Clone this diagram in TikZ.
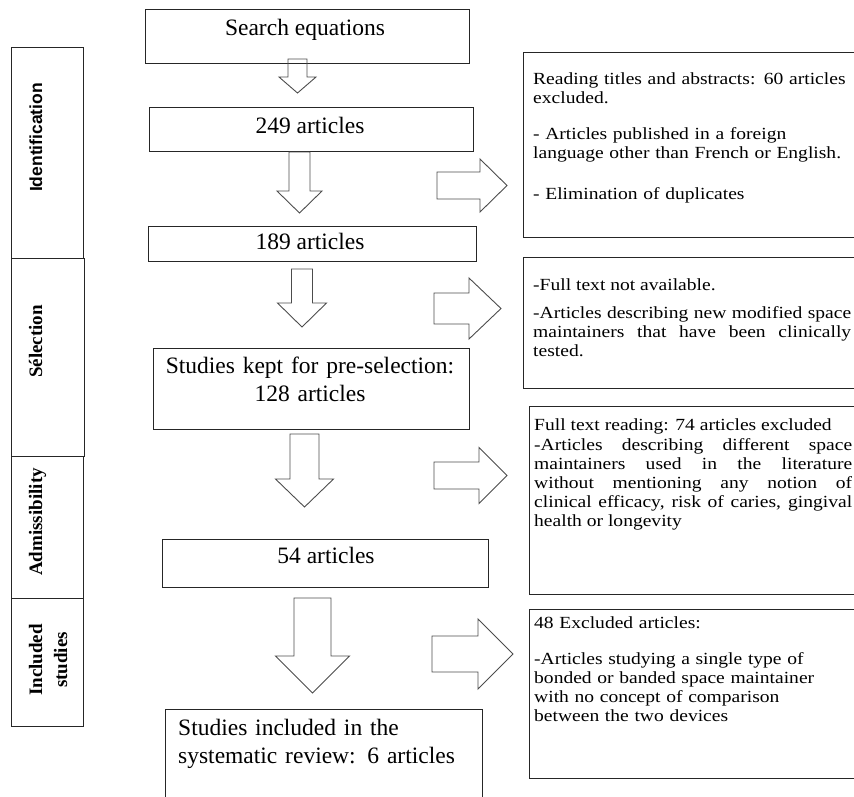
\documentclass[tikz,border=0pt]{standalone}
\usepackage{fontspec}
\setmainfont{Liberation Serif}
\newfontfamily\sidesans{Liberation Sans}
\newfontfamily\wideserif[FakeStretch=1.15]{Liberation Serif}
\usepackage{tikz}

\newcommand{\downblock}[6]{%
  \draw[blockarrow] ({#1-#2},#4) -- ({#1+#2},#4) -- ({#1+#2},#5) -- ({#1+#3},#5) -- (#1,#6) -- ({#1-#3},#5) -- ({#1-#2},#5) -- cycle;}
\newcommand{\rightblock}[6]{%
  \draw[blockarrow] (#4,{#1-#2}) -- (#5,{#1-#2}) -- (#5,{#1-#3}) -- (#6,#1) -- (#5,{#1+#3}) -- (#5,{#1+#2}) -- (#4,{#1+#2}) -- cycle;}

\begin{document}
\begin{tikzpicture}[x=1pt, y=-1pt,
        box/.style={draw=black!85, line width=1.1pt, inner sep=0pt, anchor=north west},
        blockarrow/.style={draw=black!70, line width=0.9pt, line join=miter},
        maintext/.style={font=\fontsize{23.5}{28}\selectfont, inner sep=0pt, anchor=base},
        sidetext/.style={font=\wideserif\fontsize{17}{19}\selectfont, inner sep=0pt, anchor=base west, text width=318pt},
        stagetext/.style={font=\fontsize{19}{25}\selectfont\bfseries, inner sep=0pt, rotate=90, anchor=base}
    ]
    \useasboundingbox (0,0) rectangle (854,796);

    \node[box, minimum width=72pt, minimum height=211pt] (identification) at (11,47) {};
    \node[box, minimum width=73pt, minimum height=198pt] (selection) at (11,258) {};
    \node[box, minimum width=72pt, minimum height=142pt] (admissibility) at (11,456) {};
    \node[box, minimum width=72pt, minimum height=128pt] (included) at (11,598) {};
    \node[stagetext, font=\sidesans\fontsize{17.5}{21}\selectfont\bfseries] (identification-t) at (42,137.5) {Identification};
    \node[stagetext] (selection-t) at (42,341.5) {Sélection};
    \node[stagetext] (admissibility-t) at (42,522) {Admissibility};
    \node[stagetext, text width=90pt, align=center] (included-t) at (42,660) {Included\\studies};

    \node[box, minimum width=324pt, minimum height=54pt] (search) at (145,9) {};
    \node[box, minimum width=324pt, minimum height=44pt] (n249) at (149,107) {};
    \node[box, minimum width=328pt, minimum height=35pt] (n189) at (148,226) {};
    \node[box, minimum width=316pt, minimum height=81pt] (n128) at (153,348) {};
    \node[box, minimum width=326pt, minimum height=48pt] (n54) at (162,539) {};
    \node[box, minimum width=317pt, minimum height=110pt] (n6) at (165,709) {};

    \node[maintext] (search-t) at (305,35) {Search equations};
    \node[maintext] (n249-t) at (310,133) {249 articles};
    \node[maintext] (n189-t) at (310,249) {189 articles};
    \node[maintext, text width=310pt, align=center] (n128-t) at (310,373) {Studies kept for pre-selection:\\128 articles};
    \node[maintext] (n54-t) at (326,563) {54 articles};
    \node[maintext, anchor=base west, text width=300pt, align=left] (n6-t) at (178,735) {Studies included in the\\systematic review: 6 articles};

    \node[box, minimum width=350pt, minimum height=185pt] (ex1) at (523,52) {};
    \node[box, minimum width=350pt, minimum height=131pt] (ex2) at (523,257) {};
    \node[box, minimum width=350pt, minimum height=188pt] (ex3) at (529,406) {};
    \node[box, minimum width=350pt, minimum height=169pt] (ex4) at (529,609) {};

    \node[sidetext, align=left] (ex1-t) at (533,84) {Reading titles and abstracts: 60 articles\\ excluded.\\[17pt] - Articles published\ in a foreign\\ language other than French or English.\\[22pt] - Elimination of duplicates};
    \node[sidetext, align=justify] (ex2-t) at (533,290) {-Full text not available.\par\vspace{9pt}-Articles describing new modified space\linebreak maintainers that have been clinically\linebreak tested.};
    \node[sidetext, align=justify] (ex3-t) at (534,430) {Full text reading: 74 articles excluded\par\vspace{1pt}-Articles describing different space\linebreak maintainers used in the literature\linebreak without mentioning any notion of\linebreak clinical efficacy, risk of caries, gingival\linebreak health or longevity};
    \node[sidetext, align=left] (ex4-t) at (534,628) {48 Excluded articles:\\[17pt]-Articles studying a single type of\\ bonded or banded space maintainer\\ with no concept of comparison\\ between the two devices};

    \downblock{297.5}{9.5}{18.5}{59}{77}{93}
    \downblock{299.5}{10.5}{22.5}{152}{191}{213}
    \downblock{302}{10.5}{24.5}{269}{303}{327}
    \downblock{304.5}{14.5}{29}{434}{479}{507}
    \downblock{312.5}{18.5}{37}{598}{656}{693}

    \rightblock{185.5}{13.5}{26.5}{437}{480}{507}
    \rightblock{308.5}{15.5}{30.5}{434}{469}{501}
    \rightblock{475.5}{13.5}{28}{434}{479}{507}
    \rightblock{654}{18}{35}{432}{478}{513}
\end{tikzpicture}
\end{document}
